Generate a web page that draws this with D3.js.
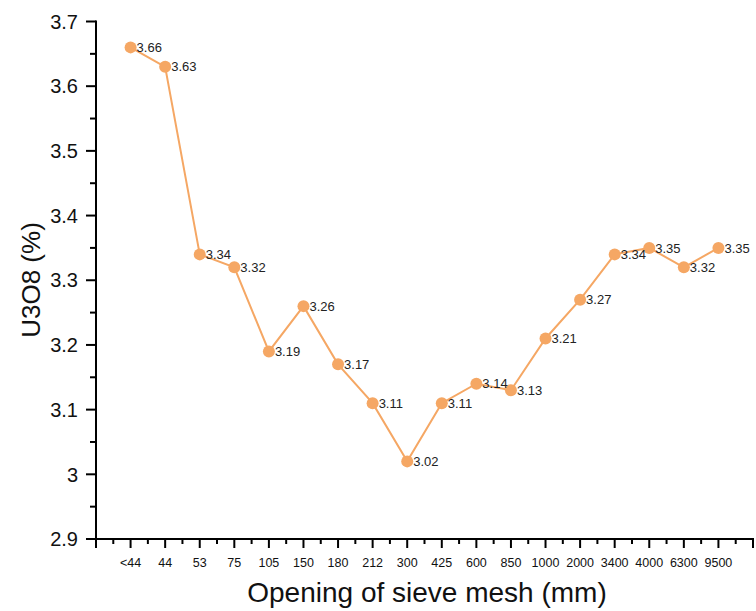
<!DOCTYPE html>
<html>
<head>
<meta charset="utf-8">
<script src="https://cdn.jsdelivr.net/npm/d3@7"></script>
<style>
  body { margin: 0; background: #fff; }
  svg { display: block; font-family: "Liberation Sans", Arial, sans-serif; }
</style>
</head>
<body>
<div id="chart"></div>
<script>
// --- Data ---
const categories = ["<44", "44", "53", "75", "105", "150", "180", "212", "300", "425",
                    "600", "850", "1000", "2000", "3400", "4000", "6300", "9500"];
const values = [3.66, 3.63, 3.34, 3.32, 3.19, 3.26, 3.17, 3.11, 3.02, 3.11,
                 3.14, 3.13, 3.21, 3.27, 3.34, 3.35, 3.32, 3.35];
const yTicks = [2.9, 3.0, 3.1, 3.2, 3.3, 3.4, 3.5, 3.6, 3.7];

const width = 756, height = 611;
const plotL = 96, plotR = 753, plotT = 21.5, plotB = 539;
const color = "#F5A764";

const svg = d3.select("#chart").append("svg").attr("width", width).attr("height", height);

// category index scale: 0 = axis start, last category at n, axis end at n+1
const x = d3.scaleLinear().domain([0, categories.length + 1]).range([plotL, plotR]);
const y = d3.scaleLinear().domain([2.9, 3.7]).range([plotB, plotT]);

// --- Axes ---
const ax = svg.append("g").attr("stroke", "#000").attr("stroke-width", 2);
ax.append("line").attr("x1", plotL).attr("x2", plotL).attr("y1", plotT - 1).attr("y2", plotB + 1);
ax.append("line").attr("x1", plotL - 1).attr("x2", plotR + 1).attr("y1", plotB).attr("y2", plotB);

// x ticks (major at categories, minor between)
d3.range(0, categories.length + 2).forEach(i => {
  ax.append("line").attr("x1", x(i)).attr("x2", x(i)).attr("y1", plotB).attr("y2", plotB + 9);
  if (i < categories.length + 1)
    ax.append("line").attr("x1", x(i + 0.5)).attr("x2", x(i + 0.5)).attr("y1", plotB).attr("y2", plotB + 5);
});
// y ticks
yTicks.forEach((t, k) => {
  ax.append("line").attr("x1", plotL - 10).attr("x2", plotL).attr("y1", y(t)).attr("y2", y(t));
  if (k < yTicks.length - 1)
    ax.append("line").attr("x1", plotL - 6).attr("x2", plotL).attr("y1", y(t + 0.05)).attr("y2", y(t + 0.05));
});

svg.append("g").selectAll("text").data(yTicks).join("text")
  .attr("x", plotL - 18).attr("y", d => y(d)).attr("dy", "0.36em")
  .attr("text-anchor", "end").attr("font-size", 20).attr("fill", "#111")
  .text(d => d3.format("~g")(d));

svg.append("g").selectAll("text").data(categories).join("text")
  .attr("x", (d, i) => x(i + 1)).attr("y", 567)
  .attr("text-anchor", "middle").attr("font-size", 12.5).attr("fill", "#111")
  .text(d => d);

// axis titles
svg.append("text").attr("x", 427).attr("y", 602).attr("text-anchor", "middle")
  .attr("font-size", 28).attr("fill", "#111").text("Opening of sieve mesh (mm)");
svg.append("text").attr("transform", `translate(40, 280) rotate(-90)`)
  .attr("text-anchor", "middle").attr("font-size", 26).attr("fill", "#111").text("U3O8 (%)");

// --- Series ---
const line = d3.line().x((d, i) => x(i + 1)).y(d => y(d));
svg.append("path").datum(values).attr("d", line)
  .attr("fill", "none").attr("stroke", color).attr("stroke-width", 2);

svg.append("g").selectAll("circle").data(values).join("circle")
  .attr("cx", (d, i) => x(i + 1)).attr("cy", d => y(d)).attr("r", 6).attr("fill", color);

svg.append("g").selectAll("text").data(values).join("text")
  .attr("x", (d, i) => x(i + 1) + 6).attr("y", d => y(d)).attr("dy", "0.36em")
  .attr("font-size", 13).attr("fill", "#222")
  .text(d => d3.format(".2f")(d));
</script>
</body>
</html>
